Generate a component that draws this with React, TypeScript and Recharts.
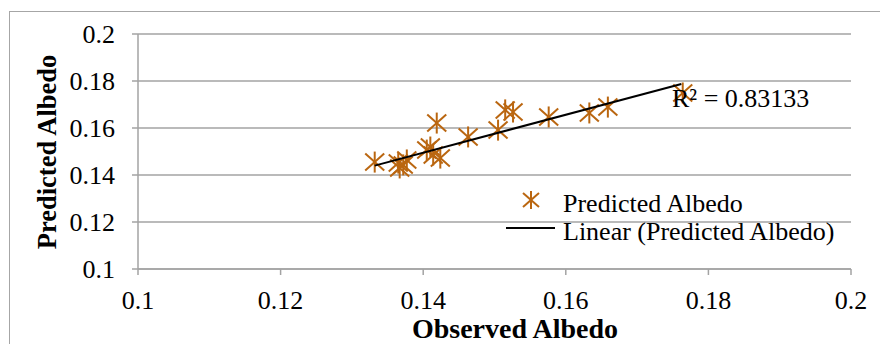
import React from 'react';
import { ScatterChart, Scatter, XAxis, YAxis, CartesianGrid, Label } from 'recharts';

const observed = [0.1332, 0.1367, 0.1365, 0.1372, 0.1377, 0.1405, 0.1410, 0.1414, 0.1419, 0.1424, 0.1463, 0.1505, 0.1515, 0.1526, 0.1576, 0.1633, 0.1659, 0.1764];
const predicted = [0.1455, 0.1430, 0.1451, 0.1443, 0.1464, 0.1506, 0.1519, 0.1485, 0.1621, 0.1472, 0.1562, 0.1591, 0.1677, 0.1668, 0.1647, 0.1664, 0.1689, 0.1749];
const trendX = [0.1332, 0.1762];
const trendY = [0.1440, 0.1787];
const xTicks = [0.1, 0.12, 0.14, 0.16, 0.18, 0.2];
const yTicks = [0.1, 0.12, 0.14, 0.16, 0.18, 0.2];
const rSquaredText = 'R² = 0.83133';

const points = observed.map((x, i) => ({ x, y: predicted[i] }));
const trend = trendX.map((x, i) => ({ x, y: trendY[i] }));

const MARK = '#BA6610';
const GRID = '#A3A3A3';
const FONT = '"Liberation Serif", "Times New Roman", serif';
const FS = 26;

const Asterisk = (props: any) => {
  const { cx, cy } = props;
  if (cx == null || cy == null) return null;
  return (
    <g stroke={MARK} strokeWidth={2} fill="none">
      <line x1={cx - 9.5} y1={cy - 8.5} x2={cx + 9.5} y2={cy + 8.5} />
      <line x1={cx - 9.5} y1={cy + 8.5} x2={cx + 9.5} y2={cy - 8.5} />
      <line x1={cx} y1={cy - 10.5} x2={cx} y2={cy + 10.5} />
    </g>
  );
};

const fmt = (v: number) => String(Number(v.toFixed(2)));

export default function App() {
  return (
    <div style={{ position: 'absolute', left: 0, top: 0, width: 880, height: 344, background: '#fff' }}>
      <svg width={880} height={344} style={{ position: 'absolute', left: 0, top: 0 }}>
        <rect x={9.5} y={11.5} width={890} height={360} fill="#fff" stroke="#A6A6A6" strokeWidth={1} />
      </svg>
      <div style={{ position: 'absolute', left: 0, top: 0 }}>
        <ScatterChart width={880} height={344} margin={{ top: 34, right: 29, bottom: 0, left: 0 }}>
          <CartesianGrid horizontal vertical={false} stroke={GRID} strokeWidth={1.5} />
          <XAxis
            type="number"
            dataKey="x"
            domain={[0.1, 0.2]}
            ticks={xTicks}
            tickFormatter={fmt}
            allowDataOverflow
            stroke={GRID}
            strokeWidth={1.5}
            tickSize={6}
            tickMargin={16}
            tick={{ fill: '#000', fontSize: FS, fontFamily: FONT }}
            height={75}
          >
            <Label
              content={() => (
                <text x={515} y={338} textAnchor="middle" fontFamily={FONT} fontWeight="bold" fontSize={28} fill="#000">
                  Observed Albedo
                </text>
              )}
            />
          </XAxis>
          <YAxis
            type="number"
            dataKey="y"
            domain={[0.1, 0.2]}
            ticks={yTicks}
            tickFormatter={fmt}
            allowDataOverflow
            stroke={GRID}
            strokeWidth={1.5}
            tickSize={6}
            tickMargin={17}
            tick={{ fill: '#000', fontSize: FS, fontFamily: FONT }}
            width={138}
          >
            <Label
              content={() => (
                <text
                  x={56}
                  y={152}
                  textAnchor="middle"
                  transform="rotate(-90 56 152)"
                  fontFamily={FONT}
                  fontWeight="bold"
                  fontSize={26.5}
                  fill="#000"
                >
                  Predicted Albedo
                </text>
              )}
            />
          </YAxis>
          <Scatter data={points} shape={<Asterisk />} isAnimationActive={false} />
          <Scatter data={trend} line={{ stroke: '#000', strokeWidth: 2 }} shape={() => null} isAnimationActive={false} />
        </ScatterChart>
      </div>
      <svg width={880} height={344} style={{ position: 'absolute', left: 0, top: 0, pointerEvents: 'none' }}>
        <text x={672} y={107} fontFamily={FONT} fontSize={FS} fill="#000">{rSquaredText}</text>
        <g stroke={MARK} strokeWidth={2}>
          <line x1={523} y1={193} x2={539} y2={207} />
          <line x1={523} y1={207} x2={539} y2={193} />
          <line x1={531} y1={191} x2={531} y2={209} />
        </g>
        <text x={563} y={212} fontFamily={FONT} fontSize={FS} fill="#000">Predicted Albedo</text>
        <line x1={506} y1={228} x2={555} y2={228} stroke="#000" strokeWidth={2} />
        <text x={563} y={240} fontFamily={FONT} fontSize={FS} fill="#000">Linear (Predicted Albedo)</text>
      </svg>
    </div>
  );
}
